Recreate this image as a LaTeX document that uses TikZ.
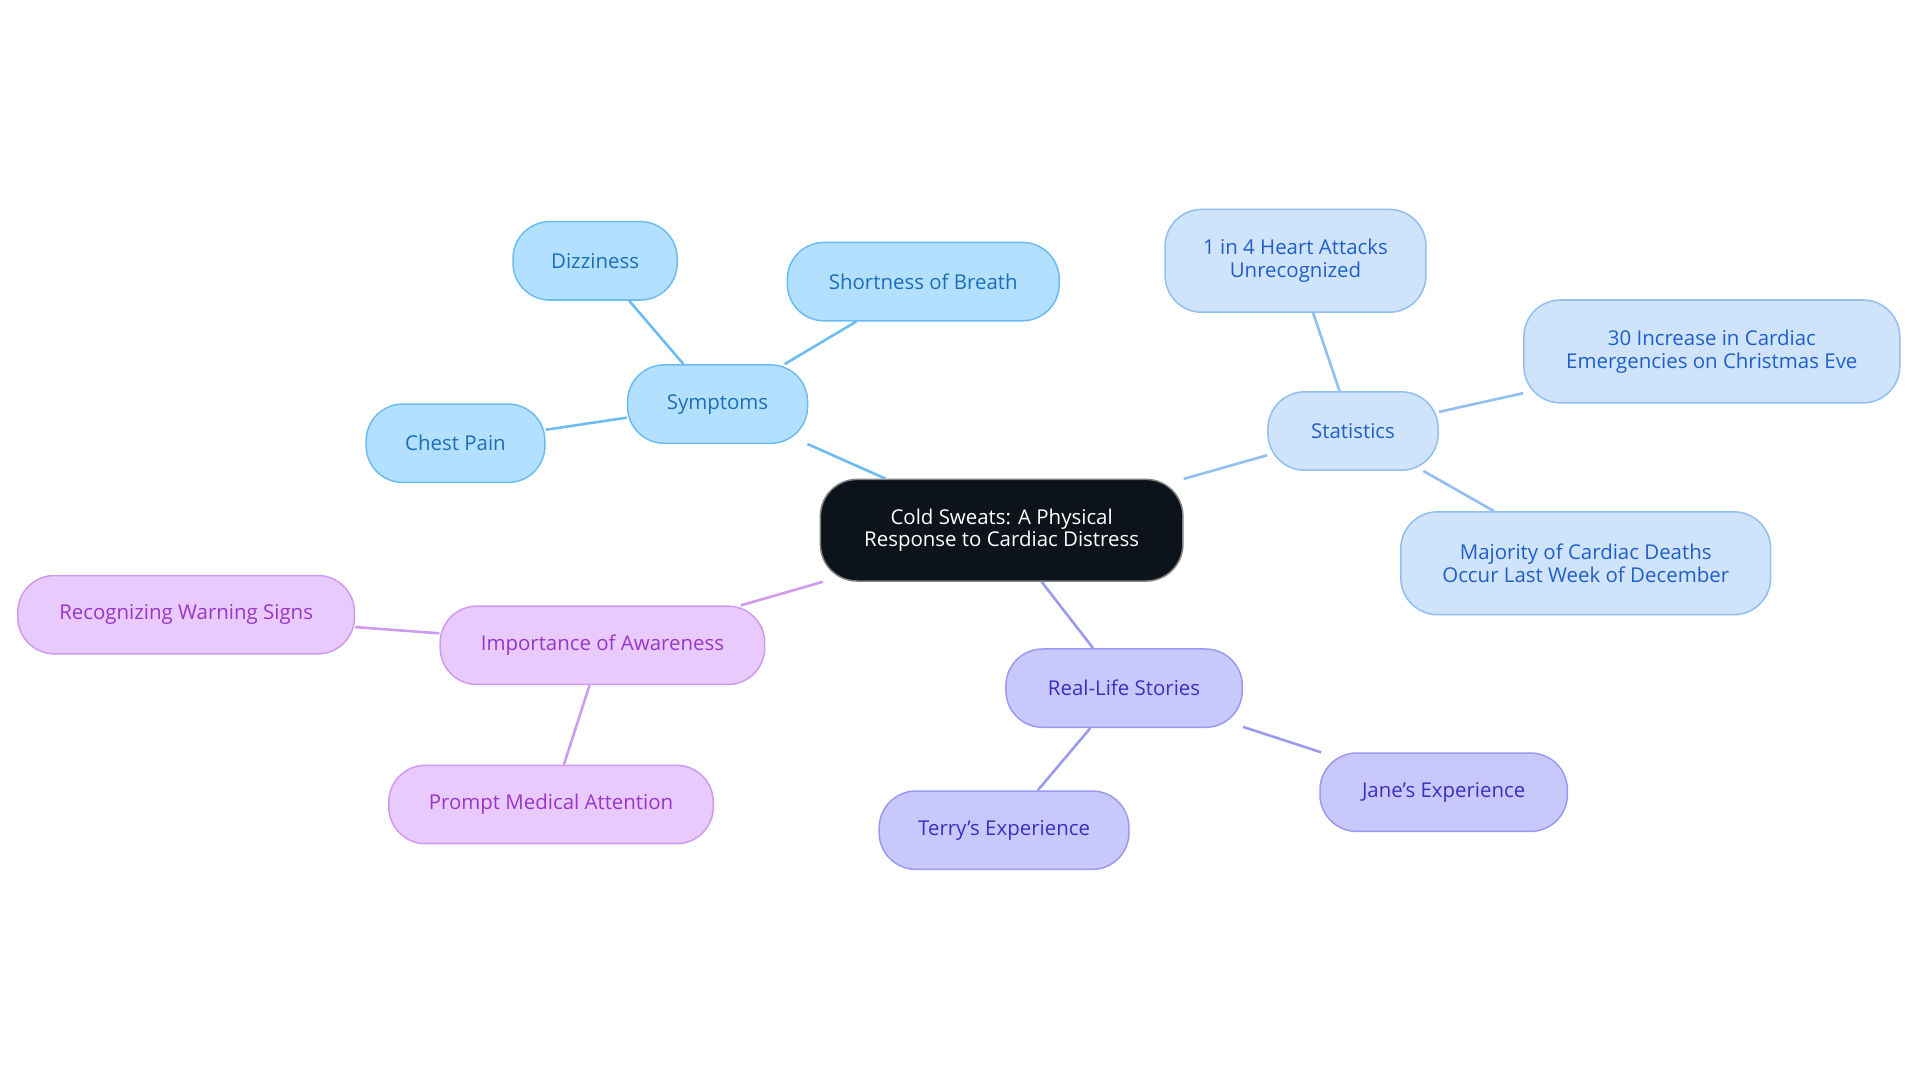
\documentclass[tikz,border=0pt]{standalone}
\usepackage{fontspec}
\setmainfont{Open Sans}
\definecolor{bfill}{HTML}{B3E0FF}\definecolor{bdraw}{HTML}{6BBCF0}\definecolor{btext}{HTML}{1A6FB5}
\definecolor{sfill}{HTML}{CFE3FA}\definecolor{sdraw}{HTML}{90BFF0}\definecolor{stext}{HTML}{1F5FC9}
\definecolor{rfill}{HTML}{C8C8FC}\definecolor{rdraw}{HTML}{9A9AF0}\definecolor{rtext}{HTML}{3A30C0}
\definecolor{ifill}{HTML}{E8CAFC}\definecolor{idraw}{HTML}{D09AF0}\definecolor{itext}{HTML}{9A35C9}
\definecolor{cfill}{HTML}{0D131B}
\tikzset{
 box/.style={rounded corners=0.6cm,line width=0.7pt,align=center,inner sep=0pt,font=\fontsize{9.5}{10.5}\selectfont},
 bl/.style={box,fill=bfill,draw=bdraw,text=btext},
 st/.style={box,fill=sfill,draw=sdraw,text=stext},
 rl/.style={box,fill=rfill,draw=rdraw,text=rtext},
 im/.style={box,fill=ifill,draw=idraw,text=itext},
 ce/.style={box,fill=cfill,draw=gray,text=white},
 eb/.style={draw=bdraw,line width=1.2pt},
 es/.style={draw=sdraw,line width=1.2pt},
 er/.style={draw=rdraw,line width=1.2pt},
 ei/.style={draw=idraw,line width=1.2pt},
}
\newcommand{\bx}[6]{\node[#1,minimum width=#4*0.02cm,minimum height=#5*0.02cm] (#2) at (#3) {#6};}
\begin{document}
\begin{tikzpicture}[x=0.02cm,y=-0.02cm]
\useasboundingbox (0,0) rectangle (1568,884.4);
\bx{ce}{c}{818,433}{296}{83}{Cold Sweats: A Physical\\Response to Cardiac Distress}
\bx{bl}{sy}{586,330}{147}{64}{Symptoms}
\bx{bl}{di}{486,213}{134}{64}{Dizziness}
\bx{bl}{sb}{754,230}{222}{64}{Shortness of Breath}
\bx{bl}{cp}{372,362}{146}{64}{Chest Pain}
\bx{st}{sta}{1105,352}{139}{64}{Statistics}
\bx{st}{s1}{1058,213}{213}{84}{1 in 4 Heart Attacks\\Unrecognized}
\bx{st}{s2}{1398,287}{307}{84}{30 Increase in Cardiac\\Emergencies on Christmas Eve}
\bx{st}{s3}{1295,460}{302}{84}{Majority of Cardiac Deaths\\Occur Last Week of December}
\bx{rl}{rs}{918,562}{193}{64}{Real-Life Stories}
\bx{rl}{ja}{1179,647}{202}{64}{Jane's Experience}
\bx{rl}{te}{820,678}{204}{64}{Terry's Experience}
\bx{im}{ia}{492,527}{265}{64}{Importance of Awareness}
\bx{im}{rw}{152,502}{275}{64}{Recognizing Warning Signs}
\bx{im}{pm}{450,657}{265}{64}{Prompt Medical Attention}
\begin{scope}[on background layer/.style={}]
\end{scope}
\draw[eb] (c) -- (sy); \draw[eb] (sy) -- (di); \draw[eb] (sy) -- (sb); \draw[eb] (sy) -- (cp);
\draw[es] (c) -- (sta); \draw[es] (sta) -- (s1); \draw[es] (sta) -- (s2); \draw[es] (sta) -- (s3);
\draw[er] (c) -- (rs); \draw[er] (rs) -- (ja); \draw[er] (rs) -- (te);
\draw[ei] (c) -- (ia); \draw[ei] (ia) -- (rw); \draw[ei] (ia) -- (pm);
\end{tikzpicture}
\end{document}
